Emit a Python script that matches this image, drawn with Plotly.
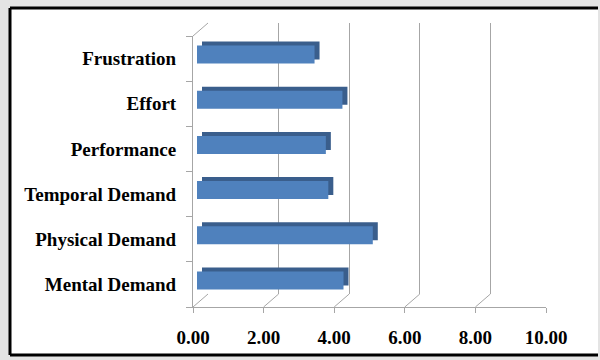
import plotly.graph_objects as go

# ---- data ----
categories = ["Mental Demand", "Physical Demand", "Temporal Demand",
              "Performance", "Effort", "Frustration"]
scores = [4.15, 4.98, 3.72, 3.65, 4.12, 3.33]
x_ticks = [0, 2, 4, 6, 8, 10]
x_range = [0, 10]

W, H = 600, 360
def PX(px):
    return px / W
def PY(py):
    return 1 - py / H

# geometry (pixels)
FL, FR, FT, FB = 193, 546, 36, 307      # front plot box
DX, DY = 15, 13                          # depth offset of back wall
BX, BY = 4, 4                            # bar front-face depth offset
SX, SY = 5, 4                            # bar side/top face offset

FONT = dict(family="Liberation Serif", size=19, color="black", weight="bold")
FRONT = "#4F81BD"
DARK = "#3A5E8C"
GRID = "#a6a6a6"
NOLINE = dict(width=0, color="rgba(0,0,0,0)")

fig = go.Figure()

def dom(dx, dy):
    return [PX(FL + dx), PX(FR + dx)], [PY(FB - dy), PY(FT - dy)]

# 1) back wall (gridlines)
xd, yd = dom(DX, DY)
fig.add_trace(go.Bar(x=scores, y=categories, orientation="h", xaxis="x", yaxis="y",
                     marker=dict(color="rgba(0,0,0,0)", line=NOLINE),
                     hoverinfo="skip", showlegend=False))
# 2) dark side/top faces
xd2, yd2 = dom(BX + SX, BY + SY)
fig.add_trace(go.Bar(x=scores, y=categories, orientation="h", xaxis="x2", yaxis="y2",
                     width=0.4, marker=dict(color=DARK, line=NOLINE),
                     hoverinfo="skip", showlegend=False))
# 3) front faces
xd3, yd3 = dom(BX, BY)
fig.add_trace(go.Bar(x=scores, y=categories, orientation="h", xaxis="x3", yaxis="y3",
                     width=0.4, marker=dict(color=FRONT, line=NOLINE),
                     showlegend=False))
# 4) front axes (labels, floor line, left wall line)
xd4, yd4 = dom(0, 0)
fig.add_trace(go.Bar(x=scores, y=categories, orientation="h", xaxis="x4", yaxis="y4",
                     marker=dict(color="rgba(0,0,0,0)", line=NOLINE),
                     hoverinfo="skip", showlegend=False))

hidden_x = dict(range=x_range, showgrid=False, zeroline=False, showticklabels=False,
                ticks="", showline=False, fixedrange=True, automargin=False)
hidden_y = dict(categoryorder="array", categoryarray=categories, range=[-0.5, 5.5],
                showgrid=False, zeroline=False, showticklabels=False, ticks="",
                showline=False, fixedrange=True, automargin=False)

fig.update_layout(
    template="none",
    width=W, height=H, autosize=False,
    margin=dict(l=0, r=0, t=0, b=0, pad=0, autoexpand=False),
    showlegend=False,
    paper_bgcolor="#e4e4e4",
    plot_bgcolor="rgba(0,0,0,0)",
    barmode="overlay",
    xaxis=dict(domain=xd, anchor="y", range=x_range, tickvals=x_ticks, showgrid=True,
               gridcolor=GRID, gridwidth=1, zeroline=False, showticklabels=False,
               ticks="", showline=False, fixedrange=True, automargin=False),
    yaxis=dict(domain=yd, anchor="x", **hidden_y),
    xaxis2=dict(domain=xd2, anchor="y2", **hidden_x),
    yaxis2=dict(domain=yd2, anchor="x2", **hidden_y),
    xaxis3=dict(domain=xd3, anchor="y3", **hidden_x),
    yaxis3=dict(domain=yd3, anchor="x3", **hidden_y),
    xaxis4=dict(domain=xd4, anchor="y4", range=x_range, tickvals=x_ticks,
                tickformat=".2f", tickfont=FONT, showgrid=False, zeroline=False,
                showline=True, linecolor=GRID, linewidth=1, ticks="outside",
                ticklen=5, tickcolor=GRID, ticklabelstandoff=8, fixedrange=True,
                automargin=False),
    yaxis4=dict(domain=yd4, anchor="x4", categoryorder="array", categoryarray=categories,
                range=[-0.5, 5.5], tickfont=FONT, showgrid=False, zeroline=False,
                showline=True, linecolor=GRID, linewidth=1, ticks="outside",
                ticklen=6, tickcolor=GRID, tickson="boundaries",
                ticklabelstandoff=12, fixedrange=True, automargin=False),
    font=FONT,
)

shapes = []
# card: white panel with black border (left, top, bottom)
shapes.append(dict(type="rect", xref="paper", yref="paper", layer="below",
                   x0=PX(10), x1=PX(598), y0=PY(355), y1=PY(8),
                   fillcolor="white", line=dict(width=0)))
for (x0, y0, x1, y1) in [(10, 8, 598, 8), (10, 8, 10, 355), (10, 355, 598, 355)]:
    shapes.append(dict(type="line", xref="paper", yref="paper", layer="above",
                       x0=PX(x0), y0=PY(y0), x1=PX(x1), y1=PY(y1),
                       line=dict(color="black", width=3)))
# floor depth lines at every tick
for v in x_ticks:
    shapes.append(dict(type="line", xref="x4", yref="y4 domain",
                       xsizemode="pixel", xanchor=v, ysizemode="pixel", yanchor=0,
                       x0=0, x1=DX, y0=0, y1=DY, layer="below",
                       line=dict(color=GRID, width=1)))
# left wall top depth line
shapes.append(dict(type="line", xref="x4", yref="y4 domain",
                   xsizemode="pixel", xanchor=x_range[0], ysizemode="pixel", yanchor=1,
                   x0=0, x1=DX, y0=0, y1=DY, layer="below",
                   line=dict(color=GRID, width=1)))
fig.update_layout(shapes=shapes)

fig.write_html("out.html")
